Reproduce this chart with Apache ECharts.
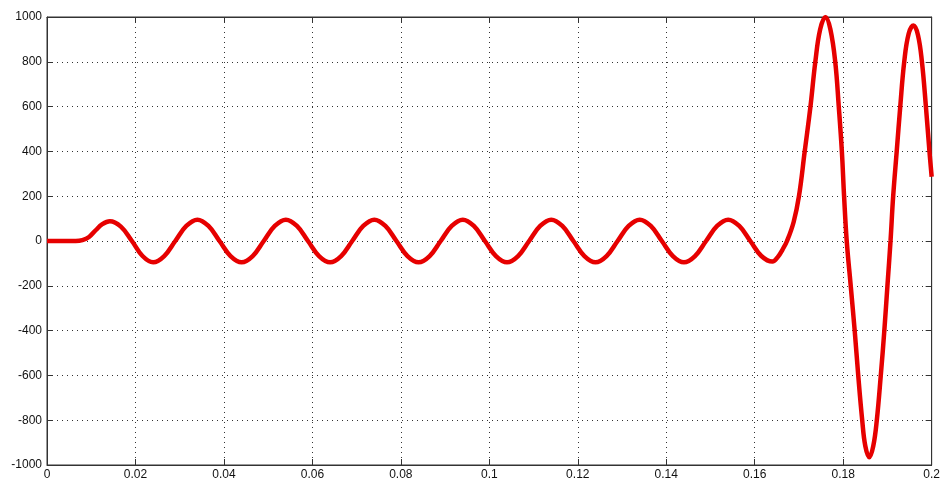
<!DOCTYPE html>
<html>
<head>
<meta charset="utf-8">
<style>
    html, body { margin: 0; padding: 0; background: #fff; }
    #chart { width: 943px; height: 483px; }
</style>
<script src="https://cdn.jsdelivr.net/npm/echarts@6/dist/echarts.min.js"></script>
</head>
<body>
<div id="chart"></div>
<script>
// time (s) and signal
var times = [
    0, 0.0065, 0.008, 0.0095, 0.011, 0.0125, 0.0142, 0.0167, 0.0192, 0.0216,
    0.024, 0.0265, 0.029, 0.0315, 0.034, 0.0365, 0.039, 0.0415, 0.044, 0.0465,
    0.049, 0.0515, 0.054, 0.0565, 0.059, 0.0615, 0.064, 0.0665, 0.069, 0.0715,
    0.074, 0.0765, 0.079, 0.0815, 0.084, 0.0865, 0.089, 0.0915, 0.094, 0.0965,
    0.099, 0.1015, 0.104, 0.1065, 0.109, 0.1115, 0.114, 0.1165, 0.119, 0.1215,
    0.124, 0.1265, 0.129, 0.1315, 0.134, 0.1365, 0.139, 0.1415, 0.144, 0.1465,
    0.149, 0.1515, 0.154, 0.1565, 0.159, 0.1615, 0.1640,
    0.1652, 0.1663, 0.1673, 0.1688, 0.1700, 0.1713, 0.1726, 0.1737, 0.1748, 0.1760,
    0.1771, 0.1782, 0.1790, 0.1797, 0.1802, 0.1808, 0.1817, 0.1826, 0.1834, 0.1843,
    0.1850, 0.1859, 0.1868, 0.1876, 0.1885, 0.1893, 0.1900, 0.1907, 0.1913, 0.1921,
    0.1929, 0.1938, 0.1948, 0.1959, 0.1969, 0.1978, 0.1987, 0.1995, 0.2000
];
var values = [
    0, 0, 4, 18, 48, 75, 88, 64, 0, -67,
    -95, -67, 0, 67, 95, 67, 0, -67, -95, -67,
    0, 67, 95, 67, 0, -67, -95, -67, 0, 67,
    95, 67, 0, -67, -95, -67, 0, 67, 95, 67,
    0, -67, -95, -67, 0, 67, 95, 67, 0, -67,
    -95, -67, 0, 67, 95, 67, 0, -67, -95, -67,
    0, 67, 95, 67, 0, -67, -92,
    -72, -38, 0, 85, 200, 400, 600, 800, 945, 1000,
    945, 800, 600, 400, 200, 0, -200, -400, -600, -800,
    -915, -965, -915, -800, -600, -400, -200, 0, 200, 400,
    600, 800, 925, 962, 920, 800, 600, 400, 287
];

(function() {
    var chart = echarts.init(document.getElementById("chart"), null, { renderer: "canvas" });
    var font = "'Liberation Sans', Arial, sans-serif";
    var gridDots = { color: "#333", width: 1, type: [1, 4] };
    var pts = times.map(function(t, i) { return [t, values[i]]; });

    var frame = { show: true, onZero: false, lineStyle: { color: "#333" } };
    var ticks = { show: true, inside: true, length: 6, lineStyle: { color: "#333" } };

    var option = {
        animation: false,
        backgroundColor: "#fff",
        grid: { left: 47, right: 10, top: 17, bottom: 18, show: true, borderColor: "#333", borderWidth: 1 },
        xAxis: [{
            type: "value", min: 0, max: 0.2, interval: 0.02, position: "bottom",
            axisLine: frame,
            axisTick: ticks,
            axisLabel: { color: "#111", fontFamily: font, fontSize: 12, margin: 4,
                formatter: function(v) { return String(+v.toFixed(2)); } },
            splitLine: { show: true, lineStyle: gridDots }
        }, {
            type: "value", min: 0, max: 0.2, interval: 0.02, position: "top",
            axisLine: frame,
            axisTick: ticks,
            axisLabel: { show: false },
            splitLine: { show: false }
        }],
        yAxis: [{
            type: "value", min: -1000, max: 1000, interval: 200, position: "left",
            axisLine: frame,
            axisTick: ticks,
            axisLabel: { color: "#111", fontFamily: font, fontSize: 12, margin: 5,
                formatter: function(v) { return String(v); } },
            splitLine: { show: true, lineStyle: gridDots }
        }, {
            type: "value", min: -1000, max: 1000, interval: 200, position: "right",
            axisLine: frame,
            axisTick: ticks,
            axisLabel: { show: false },
            splitLine: { show: false }
        }],
        series: [{
            type: "line",
            xAxisIndex: 0,
            yAxisIndex: 0,
            data: pts,
            showSymbol: false,
            smooth: 0.4,
            lineStyle: { color: "#e60000", width: 4.5 },
            z: 5
        }]
    };

    chart.setOption(option);
}());
</script>
</body>
</html>
